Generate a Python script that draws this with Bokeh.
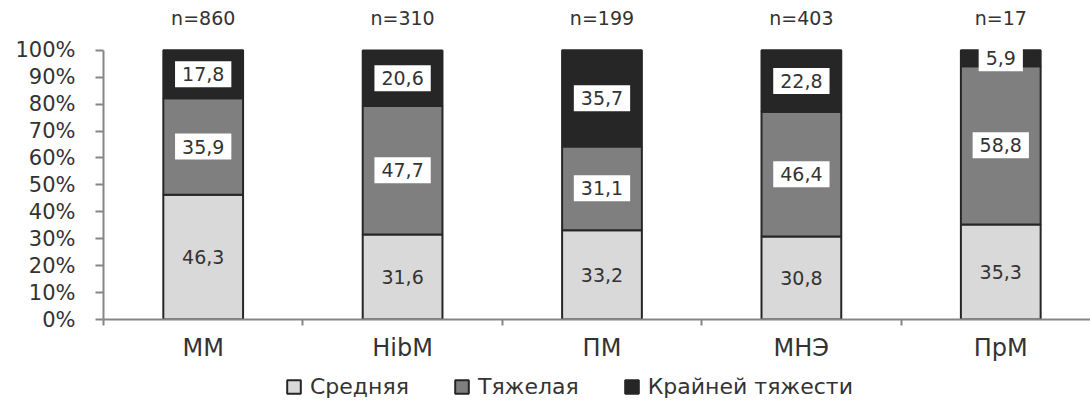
from bokeh.plotting import figure
from bokeh.layouts import column
from bokeh.models import (Range1d, FixedTicker, Legend, LegendItem,
                          ColumnDataSource, NumeralTickFormatter)
from bokeh.core.properties import value
from bokeh.embed import file_html
from bokeh.resources import INLINE

# Severity shares (%) by group
groups = ["ММ", "HibM", "ПМ", "МНЭ", "ПрМ"]
n_labels = ["n=860", "n=310", "n=199", "n=403", "n=17"]
moderate = [46.3, 31.6, 33.2, 30.8, 35.3]
severe = [35.9, 47.7, 31.1, 46.4, 58.8]
extreme = [17.8, 20.6, 35.7, 22.8, 5.9]
series_names = ["Средняя", "Тяжелая", "Крайней тяжести"]
y_ticks = [0, 10, 20, 30, 40, 50, 60, 70, 80, 90, 100]

FONT = "DejaVu Sans"
TXT = "#333333"
EDGE = "#262626"
colors = ["#d9d9d9", "#7f7f7f", "#262626"]

x = list(range(len(groups)))
b1 = [0.0] * len(groups)
t1 = [a for a in moderate]
t2 = [a + b for a, b in zip(moderate, severe)]
t3 = [a + b + c for a, b, c in zip(moderate, severe, extreme)]

p = figure(width=1090, height=364, output_backend="svg", toolbar_location=None,
           x_range=Range1d(-0.5, 4.45), y_range=Range1d(0, 118.5),
           min_border_left=103, min_border_right=0, min_border_top=0,
           min_border_bottom=44)
p.outline_line_color = None
p.xgrid.visible = False
p.ygrid.visible = False

bar_w = 0.4
for bottom, top, col in [(b1, t1, colors[0]), (t1, t2, colors[1]), (t2, t3, colors[2])]:
    src = ColumnDataSource(dict(x=x, bottom=bottom, top=top))
    p.vbar(x="x", bottom="bottom", top="top", width=bar_w, source=src,
           fill_color=col, line_color=EDGE, line_width=2)

# value labels inside the segments
mid1 = [b + v / 2 for b, v in zip(b1, moderate)]
mid2 = [b + v / 2 for b, v in zip(t1, severe)]
mid3 = [b + v / 2 for b, v in zip(t2, extreme)]
fmt = lambda v: f"{v:.1f}".replace(".", ",")

p.text(x=x, y=mid1, text=[fmt(v) for v in moderate], text_align="center",
       text_baseline="middle", text_font=value(FONT), text_font_size="19px",
       text_color=TXT)
for mids, vals in [(mid2, severe), (mid3, extreme)]:
    p.text(x=x, y=mids, text=[fmt(v) for v in vals], text_align="center",
           text_baseline="middle", text_font=value(FONT), text_font_size="19px",
           text_color=TXT, background_fill_color="white", padding=[7, 7, 6, 6])

# sample sizes above the bars
p.text(x=x, y=[111.9] * len(x), text=n_labels, text_align="center",
       text_baseline="middle", text_font=value(FONT), text_font_size="19px",
       text_color=TXT)

# y axis
ya = p.yaxis[0]
ya.bounds = (0, 100)
ya.ticker = FixedTicker(ticks=y_ticks, minor_ticks=[])
ya.formatter = NumeralTickFormatter(format="0")
ya.major_label_overrides = {t: f"{t}%" for t in y_ticks}
ya.axis_line_color = "#868686"
ya.axis_line_width = 2
ya.major_tick_line_color = "#868686"
ya.major_tick_line_width = 2
ya.major_tick_out = 8
ya.major_tick_in = 0
ya.major_label_standoff = 20
ya.major_label_text_font = FONT
ya.major_label_text_font_size = "21px"
ya.major_label_text_color = TXT

# x axis: category names at centres, ticks at band boundaries
xa = p.xaxis[0]
xa.ticker = FixedTicker(ticks=x, minor_ticks=[i - 0.5 for i in x])
xa.major_label_overrides = {i: g for i, g in zip(x, groups)}
xa.axis_line_color = "#868686"
xa.axis_line_width = 2
xa.major_tick_out = 0
xa.major_tick_in = 0
xa.minor_tick_out = 6
xa.minor_tick_in = 0
xa.minor_tick_line_color = "#868686"
xa.minor_tick_line_width = 2
xa.major_label_standoff = 8
xa.major_label_text_font = FONT
xa.major_label_text_font_size = "24px"
xa.major_label_text_color = TXT

# legend strip underneath; key swatches come from undrawn (NaN) bars
nan = float("nan")
lg = figure(width=1090, height=44, output_backend="svg", toolbar_location=None,
            x_range=Range1d(0, 1), y_range=Range1d(0, 1),
            min_border_left=0, min_border_right=0, min_border_top=0, min_border_bottom=0)
lg.outline_line_color = None
lg.xaxis.visible = False
lg.yaxis.visible = False
lg.grid.visible = False
keys = []
for col in colors:
    keys.append(lg.vbar(x=[nan], top=[nan], bottom=[nan], width=0.1, fill_color=col,
                        line_color=EDGE, line_width=2))
legend = Legend(items=[LegendItem(label=n, renderers=[r]) for n, r in zip(series_names, keys)],
                orientation="horizontal", location=(182, 9),
                label_text_font=FONT, label_text_font_size="22px",
                label_text_color=TXT, glyph_width=17, glyph_height=17,
                label_standoff=8, spacing=44, border_line_color=None,
                background_fill_alpha=0, padding=0, margin=0)
lg.add_layout(legend, "center")

layout = column(p, lg, spacing=0)
open("out.html", "w").write(file_html(layout, INLINE))
